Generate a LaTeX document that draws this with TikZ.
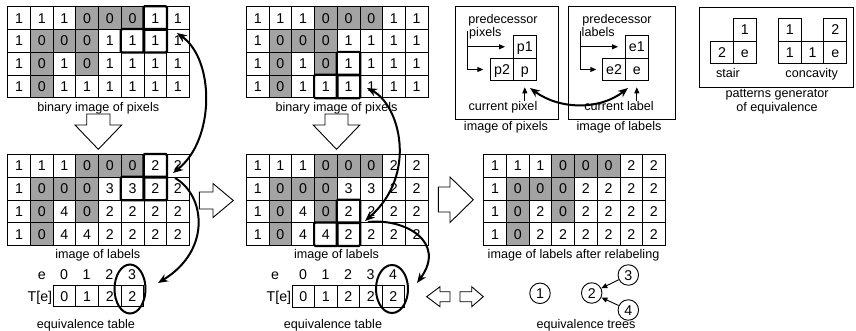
\documentclass[tikz,border=0pt]{standalone}
\usepackage{fontspec}
\setmainfont{Liberation Sans}
\usetikzlibrary{arrows.meta,shapes.geometric}
\colorlet{f0}{black!36}
\colorlet{f1}{white}
\colorlet{f2}{white}
\colorlet{f3}{white}
\colorlet{f4}{white}
\newcommand\mygrid[4]{%
  \foreach \grow [count=\gr from 0] in {#4} {
    \foreach \gv [count=\gc from 0] in \grow {
      \node[cell, fill=f\gv] (#1-\gr-\gc) at ({#2+\gc*22.7},{#3+\gr*22.8}) {\gv};
    }
  }%
}
\newcommand\hlcell[1]{\draw[hlbox] (#1.north west) rectangle (#1.south east);}
\begin{document}
\begin{tikzpicture}[x=1pt,y=-1pt,
  every node/.style={font=\fontsize{12.6}{15}\selectfont},
  big/.style={font=\fontsize{14.2}{16}\selectfont},
  cell/.style={big, draw, line width=0.7pt, minimum width=22.7pt, minimum height=22.8pt, inner sep=0pt, text height=10.2pt, text depth=0pt, anchor=north west},
  scell/.style={big, draw, line width=0.9pt, minimum width=22.7pt, minimum height=22.7pt, inner sep=0pt, text height=10.2pt, text depth=0pt, anchor=north west},
  tcell/.style={big, draw, line width=0.8pt, minimum height=21pt, inner sep=0pt, text height=10.2pt, text depth=0pt, anchor=north west},
  hlbox/.style={line width=2.2pt, rounded corners=1.2pt},
  lbl/.style={inner sep=0pt},
  blk/.style={draw, line width=0.9pt, fill=white, line join=miter},
  carr/.style={line width=2pt, -{Stealth[length=10pt,width=8pt]}},
  carr2/.style={line width=2pt, {Stealth[length=10pt,width=8pt]}-{Stealth[length=10pt,width=8pt]}},
  tarr/.style={line width=0.9pt, -{Triangle[length=6pt,width=5pt]}},
  frame/.style={draw, line width=1.1pt, inner sep=0pt, anchor=north west},
  ovl/.style={ellipse, draw, line width=2pt, inner sep=0pt},
  circ/.style={big, circle, draw, line width=0.9pt, minimum size=20.5pt, inner sep=0pt, text height=10.2pt, text depth=0pt}
]
\fill[white] (0,0) rectangle (856,331);
\useasboundingbox (0,0) rectangle (856,331);

% grids
\mygrid{P1}{7.3}{6.3}{{1,1,1,0,0,0,1,1},{1,0,0,0,1,1,1,1},{1,0,1,0,1,1,1,1},{1,0,1,1,1,1,1,1}}
\mygrid{P2}{246}{6.3}{{1,1,1,0,0,0,1,1},{1,0,0,0,1,1,1,1},{1,0,1,0,1,1,1,1},{1,0,1,1,1,1,1,1}}
\mygrid{L1}{7.3}{154}{{1,1,1,0,0,0,2,2},{1,0,0,0,3,3,2,2},{1,0,4,0,2,2,2,2},{1,0,4,4,2,2,2,2}}
\mygrid{L2}{246}{154}{{1,1,1,0,0,0,2,2},{1,0,0,0,3,3,2,2},{1,0,4,0,2,2,2,2},{1,0,4,4,2,2,2,2}}
\mygrid{L3}{483.3}{154}{{1,1,1,0,0,0,2,2},{1,0,0,0,2,2,2,2},{1,0,2,0,2,2,2,2},{1,0,2,2,2,2,2,2}}

\hlcell{P1-0-6}\hlcell{P1-1-5}\hlcell{P1-1-6}
\hlcell{L1-0-6}\hlcell{L1-1-5}\hlcell{L1-1-6}
\hlcell{P2-2-4}\hlcell{P2-3-3}\hlcell{P2-3-4}
\hlcell{L2-2-4}\hlcell{L2-3-3}\hlcell{L2-3-4}

\node[lbl, anchor=base] (tP1) at (98.2,111.6) {binary image of pixels};
\node[lbl, anchor=base] (tP2) at (336.5,111.6) {binary image of pixels};
\node[lbl, anchor=base] (tL1) at (97.8,258.3) {image of labels};
\node[lbl, anchor=base] (tL2) at (336.5,258.3) {image of labels};
\node[lbl, anchor=base] (tL3) at (573.5,258.3) {image of labels after relabeling};

% block arrows
\draw[blk] (86.7,114) -- (110,114) -- (110,125) -- (121.7,125) -- (98.3,149.3) -- (75,125) -- (86.7,125) -- cycle;
\draw[blk] (325,114) -- (348,114) -- (348,125) -- (359.8,125) -- (336.5,149.3) -- (313.2,125) -- (325,125) -- cycle;
\draw[blk] (199.3,192) -- (213,192) -- (213,183.5) -- (233.3,200.5) -- (213,217.5) -- (213,209) -- (199.3,209) -- cycle;
\draw[blk] (438.3,187) -- (450,187) -- (450,177) -- (473.3,199.7) -- (450,222.5) -- (450,212) -- (438.3,212) -- cycle;
\draw[blk] (450,291.7) -- (440,291.7) -- (440,286.7) -- (426.7,296.7) -- (440,306.7) -- (440,301.7) -- (450,301.7) -- cycle;
\draw[blk] (460,291.7) -- (471.7,291.7) -- (471.7,286.7) -- (483.3,296.7) -- (471.7,306.7) -- (471.7,301.7) -- (460,301.7) -- cycle;

% equivalence table 1
\foreach \h [count=\i from 0] in {0,1,2,3}
  \node[lbl, big, anchor=base] (hA-\i) at ({52.7+11.33+\i*22.65},279.2) {\h};
\foreach \v [count=\i from 0] in {0,1,2,2}
  \node[tcell, minimum width=22.65pt] (tA-\i) at ({52.7+\i*22.65},285.3) {\v};
\node[lbl, big, anchor=base] (teA) at (41.7,279.2) {e};
\node[lbl, big, anchor=base east] (TA) at (52.3,301) {T[e]};
\node[ovl, minimum width=31pt, minimum height=49pt] (E1) at (130,289) {};
\node[lbl, anchor=base] (eqA) at (86,328.3) {equivalence table};

% equivalence table 2
\foreach \h [count=\i from 0] in {0,1,2,3,4}
  \node[lbl, big, anchor=base] (hB-\i) at ({291.7+11.25+\i*22.5},279.2) {\h};
\foreach \v [count=\i from 0] in {0,1,2,2,2}
  \node[tcell, minimum width=22.5pt, minimum height=21.7pt] (tB-\i) at ({291.7+\i*22.5},285) {\v};
\node[lbl, big, anchor=base] (teB) at (275,279.2) {e};
\node[lbl, big, anchor=base east] (TB) at (291.3,301) {T[e]};
\node[ovl, minimum width=32pt, minimum height=48pt] (E2) at (392,289) {};
\node[lbl, anchor=base] (eqB) at (333,328.3) {equivalence table};

% box: image of pixels
\node[frame, minimum width=103pt, minimum height=113pt] (B1) at (455,6) {};
\node[lbl, anchor=base] (pred1) at (503,23.3) {predecessor};
\node[lbl, anchor=base west] (pix) at (469,36.3) {pixels};
\node[scell] (p1) at (513,35) {p1};
\node[scell] (p2) at (490.3,57.7) {p2};
\node[scell] (p) at (513,57.7) {p};
\coordinate (v1) at (467,31);
\draw[tarr] (v1) |- ([xshift=-7pt]p2.west);
\draw[tarr] (v1 |- p1.west) -- ([xshift=-8pt]p1.west);
\node[lbl, anchor=base] (cur1) at (503,110.6) {current pixel};
\draw[tarr] (cur1.north -| p.south) -- ([yshift=-6pt]p.south);
\node[lbl, anchor=base] (img1) at (506,131) {image of pixels};

% box: image of labels
\node[frame, minimum width=107pt, minimum height=113pt] (B2) at (568,6) {};
\node[lbl, anchor=base] (pred2) at (617,23.3) {predecessor};
\node[lbl, anchor=base west] (labs) at (581.5,36.3) {labels};
\node[scell] (e1) at (625,35) {e1};
\node[scell] (e2) at (602.3,57.7) {e2};
\node[scell] (e) at (625,57.7) {e};
\coordinate (v2) at (580,31);
\draw[tarr] (v2) |- ([xshift=-6pt]e2.west);
\draw[tarr] (v2 |- e1.west) -- ([xshift=-7pt]e1.west);
\node[lbl, anchor=base] (cur2) at (619,110.6) {current label};
\draw[tarr] (cur2.north -| e.south) -- ([yshift=-6pt]e.south);
\node[lbl, anchor=base] (img2) at (619,131) {image of labels};

\coordinate (ca) at (530,88);
\coordinate (cb) at (628,88);
\draw[carr2] (ca) .. controls (560,110) and (600,110) .. (cb);

% patterns
\node[frame, minimum width=154pt, minimum height=80pt] (B3) at (699,6.7) {};
\node[scell] (s1) at (733,18) {1};
\node[scell] (s2) at (710.3,40.7) {2};
\node[scell] (se) at (733,40.7) {e};
\node[scell] (c1) at (778,18) {1};
\node[scell] (c2) at (823.4,18) {2};
\node[scell] (c3) at (778,40.7) {1};
\node[scell] (c4) at (800.7,40.7) {1};
\node[scell] (ce) at (823.4,40.7) {e};
\node[lbl, anchor=base] (stair) at (728,77.3) {stair};
\node[lbl, anchor=base] (conc) at (811.7,77.3) {concavity};
\node[lbl, anchor=base] (pg1) at (777,97.6) {patterns generator};
\node[lbl, anchor=base] (pg2) at (777,111.6) {of equivalence};

% equivalence trees
\node[circ] (n1) at (540,293.3) {1};
\node[circ] (n2) at (591.7,293) {2};
\node[circ] (n3) at (628.3,275) {3};
\node[circ] (n4) at (628.3,310) {4};
\draw[tarr] (n3) -- (n2);
\draw[tarr] (n4) -- (n2);
\node[lbl, anchor=base] (eqT) at (586,328.3) {equivalence trees};

% curved arrows
\coordinate (aA1) at (177,33);
\coordinate (aA2) at (173,173);
\draw[carr2] (aA1) .. controls (215,60) and (215,140) .. (aA2);
\coordinate (aB1) at (175,178);
\coordinate (aB2) at (158,283);
\draw[carr] (aB1) .. controls (205,195) and (212,250) .. (aB2);
\coordinate (aC1) at (367,88);
\coordinate (aC2) at (365,221);
\draw[carr2] (aC1) .. controls (400,105) and (418,175) .. (aC2);
\coordinate (aD1) at (368,222);
\coordinate (aD2) at (417,283);
\draw[carr] (aD1) .. controls (405,218) and (447,242) .. (aD2);
\end{tikzpicture}
\end{document}
